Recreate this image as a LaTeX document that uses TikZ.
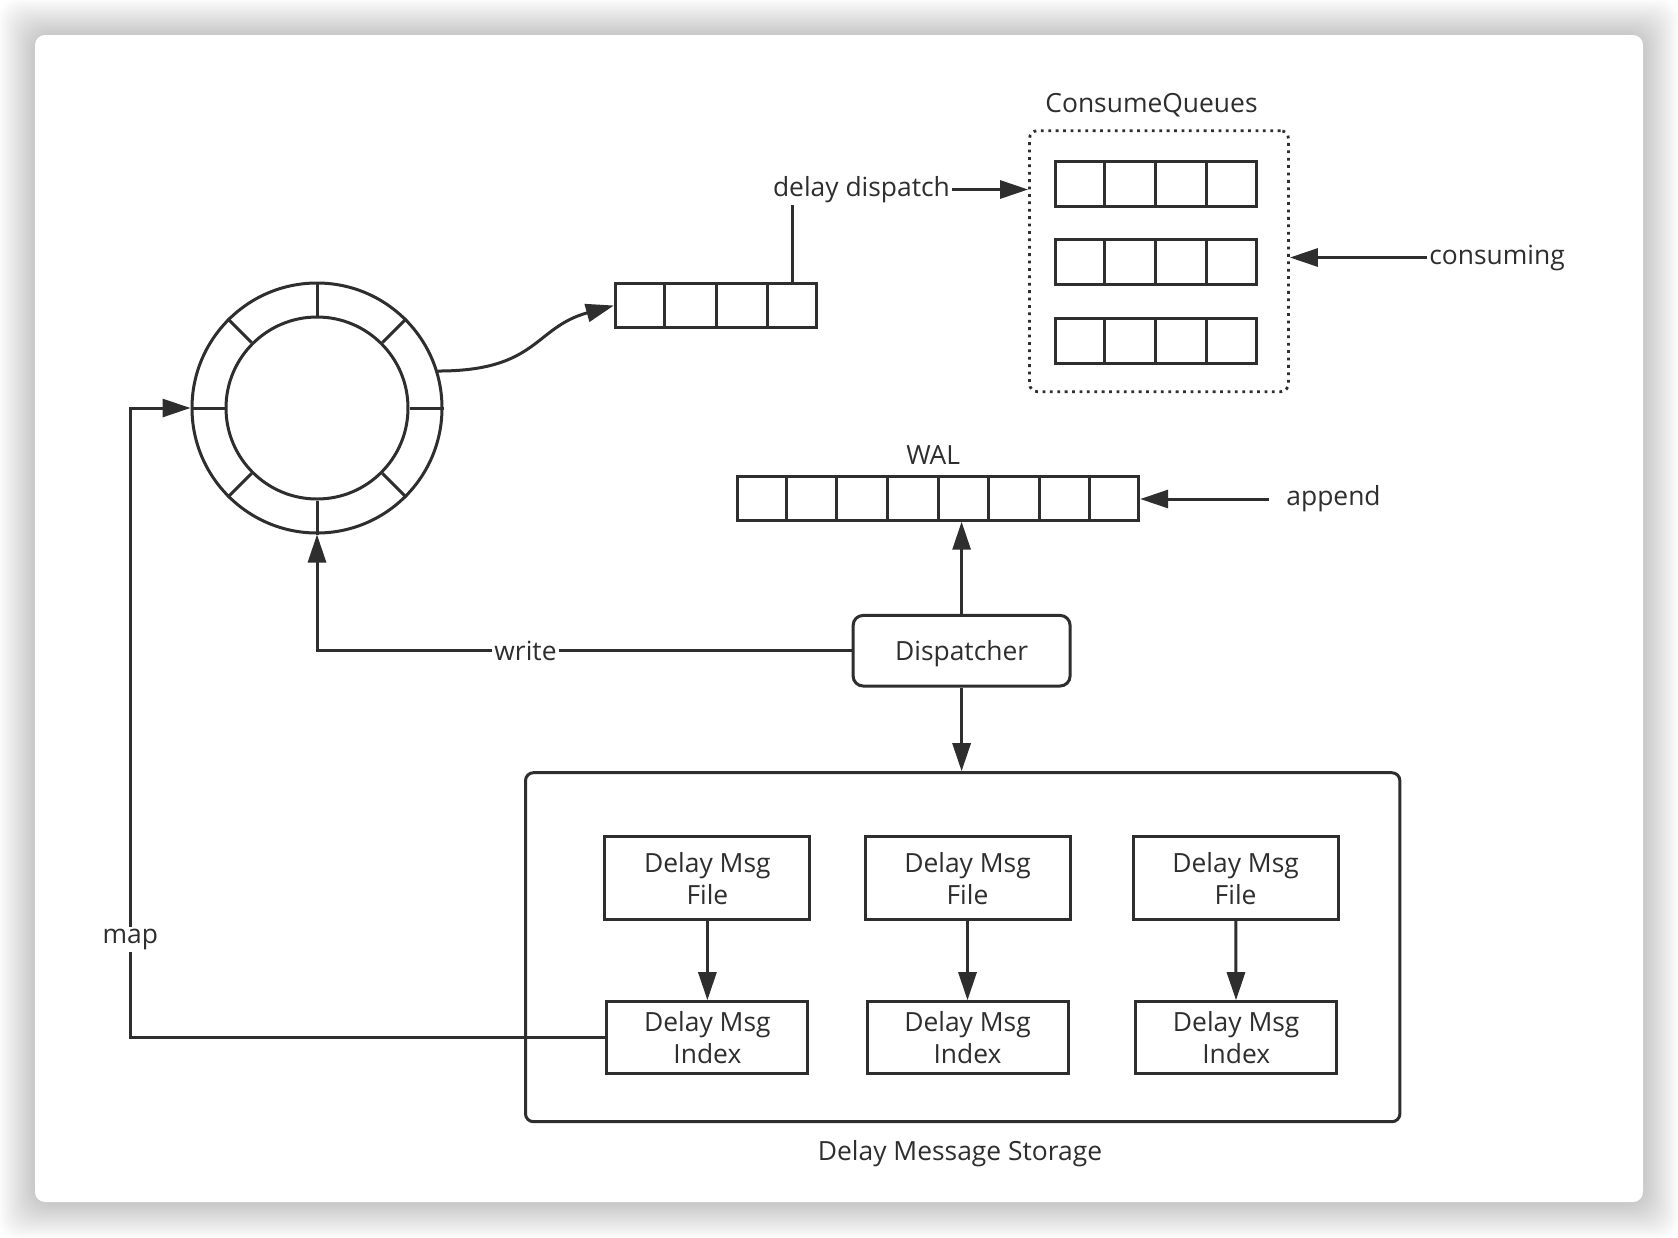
\documentclass[tikz,border=0pt]{standalone}
\usepackage{fontspec}
\setmainfont{Open Sans}
\usepackage{xcolor}
\usepackage{tikz}
\usetikzlibrary{arrows.meta, calc, positioning}
\definecolor{ink}{HTML}{2E2E2E}
\tikzset{
  flowbox/.style={
    draw=ink, line width=1.5pt, align=center, inner sep=0pt,
    font=\fontsize{13.2}{16}\selectfont, text=ink, fill=white
  },
  queuebox/.style={
    draw=ink, line width=1.5pt, inner sep=0pt,
    minimum width=100.6pt, minimum height=22pt
  },
  ringbox/.style={
    circle, draw=ink, line width=1.5pt, inner sep=0pt
  },
  flowline/.style={line width=1.5pt, draw=ink},
  flowarrow/.style={
    -{Triangle[length=14pt,width=9pt]}, line width=1.5pt, draw=ink
  },
  flowlabel/.style={
    font=\fontsize{13.2}{16}\selectfont, text=ink, inner sep=1pt
  },
}
% split a queue node into equal cells
\newcommand{\cellsplit}[2]{%
  \pgfmathtruncatemacro{\lastcut}{#2-1}
  \foreach \k in {1,...,\lastcut}
    \draw[flowline] ($(#1.north west)!\k/#2!(#1.north east)$)
      -- ($(#1.south west)!\k/#2!(#1.south east)$);
}

\begin{document}
\begin{tikzpicture}[x=0.5pt, y=-0.5pt]
  \useasboundingbox (0,0) rectangle (1678,1238);

  % ---- CARD WITH SHADOW ----
  \fill[white] (0,0) rectangle (1678,1238);
  \foreach \i in {2,4,...,36}
    \fill[black, opacity=0.011, rounded corners=10pt]
      (35-\i,35-\i) rectangle (1643+\i,1203+\i);
  \fill[white, rounded corners=5pt] (35,35) rectangle (1643,1202);

  % ---- TIME WHEEL ----
  \node[ringbox, minimum size=125pt] (ring) at (317,408) {};
  \node[ringbox, minimum size=91pt] (hub) at (ring.center) {};
  \foreach \a in {0,45,...,315}
    \draw[flowline] (hub.\a) -- (ring.\a);

  % ---- DELAY QUEUE ----
  \node[queuebox] (dq) at (716,305.5) {};
  \cellsplit{dq}{4}
  \draw[flowarrow] (ring.17) .. controls +(100,0) and +(-80,22) .. (dq.west);

  % ---- CONSUME QUEUES ----
  \node[flowlabel] (cqlabel) at (1151.5,105.5) {ConsumeQueues};
  \node[draw=ink, line width=1.4pt, dash pattern=on 1.4pt off 2.3pt,
    rounded corners=4pt, minimum width=129.5pt, minimum height=130.5pt,
    inner sep=0pt] (cqbox) at (1159,261.2) {};
  \node[queuebox, minimum height=22.5pt] (cqa) at (1155.8,184) {};
  \node[queuebox, minimum height=22.5pt] (cqb) at (1155.8,262.2) {};
  \node[queuebox, minimum height=22.5pt] (cqc) at (1155.8,341.4) {};
  \cellsplit{cqa}{4}
  \cellsplit{cqb}{4}
  \cellsplit{cqc}{4}

  % delay dispatch
  \node[flowlabel] (dd) at (861.5,189.5) {delay dispatch};
  \coordinate (dqlast) at ($(dq.north east)!0.125!(dq.north west)$);
  \draw[flowline] (dqlast) -- (dqlast |- dd.south);
  \draw[flowarrow] (dd.east) -- (dd.east -| cqbox.west);

  % consuming
  \node[flowlabel, anchor=west] (cons) at (1427,257.5) {consuming};
  \draw[flowarrow] (cons.west) -- (cons.west -| cqbox.east);

  % ---- WAL ----
  \node[flowlabel] (wallabel) at (933.2,455.5) {WAL};
  \node[queuebox, minimum width=200.7pt] (wal) at (938,498.2) {};
  \cellsplit{wal}{8}
  \node[flowlabel, anchor=west, inner xsep=8.5pt] (app) at (1269,499)
    {append};
  \draw[flowarrow] (app.west) -- (app.west -| wal.east);

  % ---- DISPATCHER ----
  \node[flowbox, rounded corners=5pt, minimum width=108.5pt,
    minimum height=35.3pt, text depth=0pt] (disp) at (961.6,650.7)
    {Dispatcher};
  \draw[flowarrow] (disp.north) -- (disp.north |- wal.south);
  \draw[flowarrow] (disp.west) -| node[flowlabel, fill=white, pos=0.305]
    (wlbl) {write} (ring.south);

  % ---- DELAY MESSAGE STORAGE ----
  \node[draw=ink, line width=1.5pt, rounded corners=4pt,
    minimum width=437.2pt, minimum height=174.5pt, inner sep=0pt]
    (store) at (962.7,947.2) {};
  \node[flowlabel] (storelabel) at (960,1153.5) {Delay Message Storage};
  \draw[flowarrow] (disp.south) -- (disp.south |- store.north);

  \node[flowbox, minimum width=102.5pt, minimum height=41.2pt] (fa)
    at (707.4,878.1) {Delay Msg\\File};
  \node[flowbox, minimum width=102.5pt, minimum height=41.2pt] (fb)
    at (967.5,878.1) {Delay Msg\\File};
  \node[flowbox, minimum width=102.5pt, minimum height=41.2pt] (fc)
    at (1235.6,878.1) {Delay Msg\\File};

  \node[flowbox, minimum width=100.5pt, minimum height=35.9pt] (ia)
    at (707.4,1037.6) {Delay Msg\\Index};
  \node[flowbox, minimum width=100.5pt, minimum height=35.9pt] (ib)
    at (967.5,1037.6) {Delay Msg\\Index};
  \node[flowbox, minimum width=100.5pt, minimum height=35.9pt] (ic)
    at (1236.2,1037.6) {Delay Msg\\Index};

  \draw[flowarrow] (fa) -- (ia);
  \draw[flowarrow] (fb) -- (ib);
  \draw[flowarrow] (fc) -- (ic);

  % map back to the wheel
  \draw[flowarrow] (ia.west) -- ++(-475,0) |- node[flowlabel, fill=white,
    pos=0.078] (mlbl) {map} (ring.west);
\end{tikzpicture}
\end{document}
